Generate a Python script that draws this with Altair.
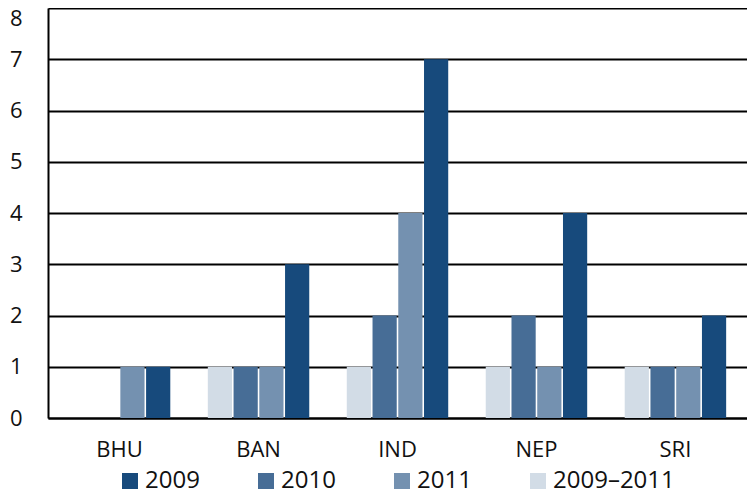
import altair as alt
import pandas as pd

countries = ["BHU", "BAN", "IND", "NEP", "SRI"]
series_order = ["2009\u20132011", "2010", "2011", "2009"]   # order inside each group
legend_order = ["2009", "2010", "2011", "2009\u20132011"]
colors = ["#174a7c", "#476d96", "#7491b0", "#d2dce6"]

v_2009_2011 = [0, 1, 1, 1, 1]
v_2010 = [0, 1, 2, 2, 1]
v_2011 = [1, 1, 4, 1, 1]
v_2009 = [1, 3, 7, 4, 2]

rows = []
for i, c in enumerate(countries):
    rows.append({"country": c, "series": "2009\u20132011", "value": v_2009_2011[i]})
    rows.append({"country": c, "series": "2010", "value": v_2010[i]})
    rows.append({"country": c, "series": "2011", "value": v_2011[i]})
    rows.append({"country": c, "series": "2009", "value": v_2009[i]})
df = pd.DataFrame(rows)

FONT = "Open Sans"

chart = alt.Chart(df).mark_bar().encode(
    x=alt.X("country:N", sort=countries,
            scale=alt.Scale(paddingInner=0.27, paddingOuter=0.15),
            axis=alt.Axis(title=None, labelAngle=0, ticks=False, tickSize=0,
                          domain=True, domainColor="black", domainWidth=2,
                          labelFontSize=22, labelPadding=21, labelColor="#111",
                          labelFont=FONT)),
    xOffset=alt.XOffset("series:N", sort=series_order,
                        scale=alt.Scale(paddingInner=0.06)),
    y=alt.Y("value:Q", scale=alt.Scale(domain=[0, 8], nice=False),
            axis=alt.Axis(title=None, values=list(range(9)), grid=True,
                          gridColor="black", gridWidth=1.8,
                          domain=True, domainColor="black", domainWidth=2,
                          ticks=False, tickSize=0, labelFontSize=22,
                          labelPadding=26, labelColor="#111", labelFont=FONT,
                          labelBaseline={"condition": {"test": "datum.value == 8", "value": "top"},
                                         "value": "middle"})),
    color=alt.Color("series:N", sort=legend_order,
                    scale=alt.Scale(domain=legend_order, range=colors),
                    legend=alt.Legend(title=None, orient="none", direction="horizontal",
                                      legendX=70, legendY=461, symbolType="square",
                                      symbolSize=256, symbolStrokeWidth=0,
                                      labelFontSize=24, labelFont=FONT, labelColor="#111",
                                      labelOffset=3, columnPadding=54, padding=0)),
).properties(
    width=699,
    height=410,
    autosize=alt.AutoSizeParams(type="none"),
    padding={"left": 40, "top": 0, "right": 0, "bottom": 72},
).configure_view(stroke=None)

chart.save("out.html", embed_options={"renderer": "svg", "actions": False})
